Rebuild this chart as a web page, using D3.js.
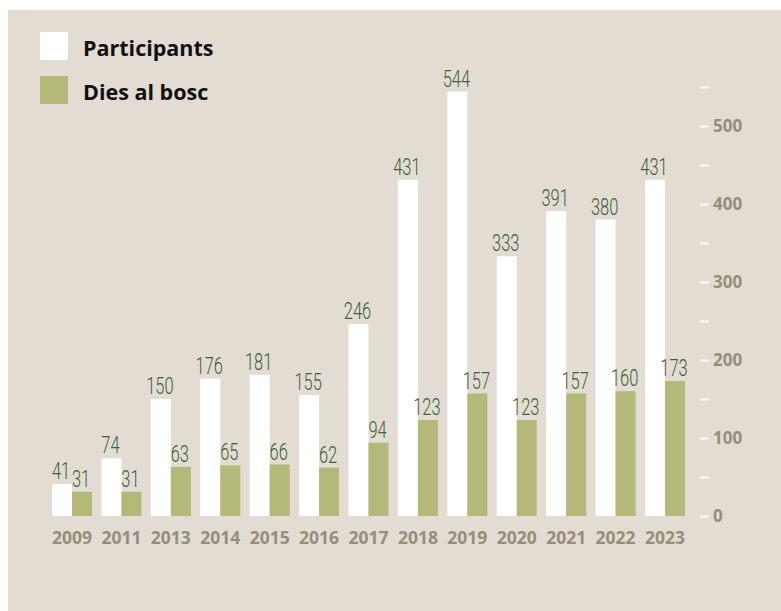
<!DOCTYPE html>
<html>
<head>
<meta charset="utf-8">
<script src="https://cdn.jsdelivr.net/npm/d3@7"></script>
<style>
  body { margin: 0; background: #ffffff; }
  svg { display: block; }
</style>
</head>
<body>
<div id="chart"></div>
<script>
// Data
const years = ["2009", "2011", "2013", "2014", "2015", "2016", "2017", "2018", "2019", "2020", "2021", "2022", "2023"];
const participants = [41, 74, 150, 176, 181, 155, 246, 431, 544, 333, 391, 380, 431];
const diesBosc = [31, 31, 63, 65, 66, 62, 94, 123, 157, 123, 157, 160, 173];
const seriesNames = ["Participants", "Dies al bosc"];
const yTicks = [0, 50, 100, 150, 200, 250, 300, 350, 400, 450, 500, 550];
const yLabels = [0, 100, 200, 300, 400, 500];

const W = 781, H = 611;
const bg = "#e2dcd3";
const colors = ["#ffffff", "#b4b97a"];
const labelColor = "#3f5f3c";
const axisColor = "#948f7c";

const svg = d3.select("#chart").append("svg")
    .attr("width", W)
    .attr("height", H);

// panel background
svg.append("rect")
    .attr("x", 8).attr("y", 10)
    .attr("width", W - 8).attr("height", H - 10)
    .attr("fill", bg);

// scales
const x0 = d3.scaleBand().domain(years).range([52, 685]).paddingInner(0.19).paddingOuter(0);
const x1 = d3.scaleBand().domain(seriesNames).range([0, x0.bandwidth()]).padding(0);
const y = d3.scaleLinear().domain([0, 550]).range([516, 87]);

const rows = years.map((yr, i) => ({ year: yr, values: [participants[i], diesBosc[i]] }));

// bars
const groups = svg.selectAll(".grp")
    .data(rows)
    .enter().append("g")
    .attr("class", "grp")
    .attr("transform", d => "translate(" + x0(d.year) + ",0)");

groups.selectAll("rect")
    .data(d => d.values.map((v, j) => ({ v: v, s: seriesNames[j], j: j })))
    .enter().append("rect")
    .attr("x", d => x1(d.s))
    .attr("y", d => y(d.v))
    .attr("width", x1.bandwidth())
    .attr("height", d => y(0) - y(d.v))
    .attr("fill", d => colors[d.j]);

// value labels (condensed look)
groups.selectAll("text.val")
    .data(d => d.values.map((v, j) => ({ v: v, s: seriesNames[j] })))
    .enter().append("text")
    .attr("class", "val")
    .attr("transform", d => "translate(" + (x1(d.s) + x1.bandwidth() / 2 - 1) + "," + (y(d.v) - 5) + ") scale(0.7,1)")
    .attr("text-anchor", "middle")
    .attr("font-family", "Roboto, sans-serif")
    .attr("font-weight", 300)
    .attr("font-size", 23.5)
    .attr("fill", labelColor)
    .text(d => d.v);

// x axis labels
const xAxis = d3.axisBottom(x0).tickSize(0).tickPadding(0);
const gx = svg.append("g")
    .attr("transform", "translate(0,527)")
    .call(xAxis);
gx.select(".domain").remove();
gx.selectAll("text")
    .attr("dy", "0.95em")
    .attr("font-family", "'Open Sans', sans-serif")
    .attr("font-weight", 700)
    .attr("font-size", 17.5)
    .attr("fill", axisColor);

// y axis on the right
const yAxis = d3.axisRight(y)
    .tickValues(yTicks)
    .tickSize(9)
    .tickPadding(4)
    .tickFormat(d => yLabels.includes(d) ? d : "");
const gy = svg.append("g")
    .attr("transform", "translate(700,0)")
    .call(yAxis);
gy.select(".domain").remove();
gy.selectAll(".tick line")
    .attr("stroke", "#ffffff")
    .attr("stroke-width", 2);
gy.selectAll("text")
    .attr("font-family", "'Open Sans', sans-serif")
    .attr("font-weight", 700)
    .attr("font-size", 17)
    .attr("fill", axisColor);

// legend
const legend = svg.append("g").attr("transform", "translate(40,32)");
seriesNames.forEach((name, i) => {
    legend.append("rect")
        .attr("x", 0)
        .attr("y", i * 44)
        .attr("width", 28)
        .attr("height", 28)
        .attr("fill", colors[i]);
    legend.append("text")
        .attr("x", 43)
        .attr("y", i * 44 + 24)
        .attr("font-family", "'Open Sans', sans-serif")
        .attr("font-weight", 700)
        .attr("font-size", 21.5)
        .attr("fill", "#111111")
        .text(name);
});
</script>
</body>
</html>
